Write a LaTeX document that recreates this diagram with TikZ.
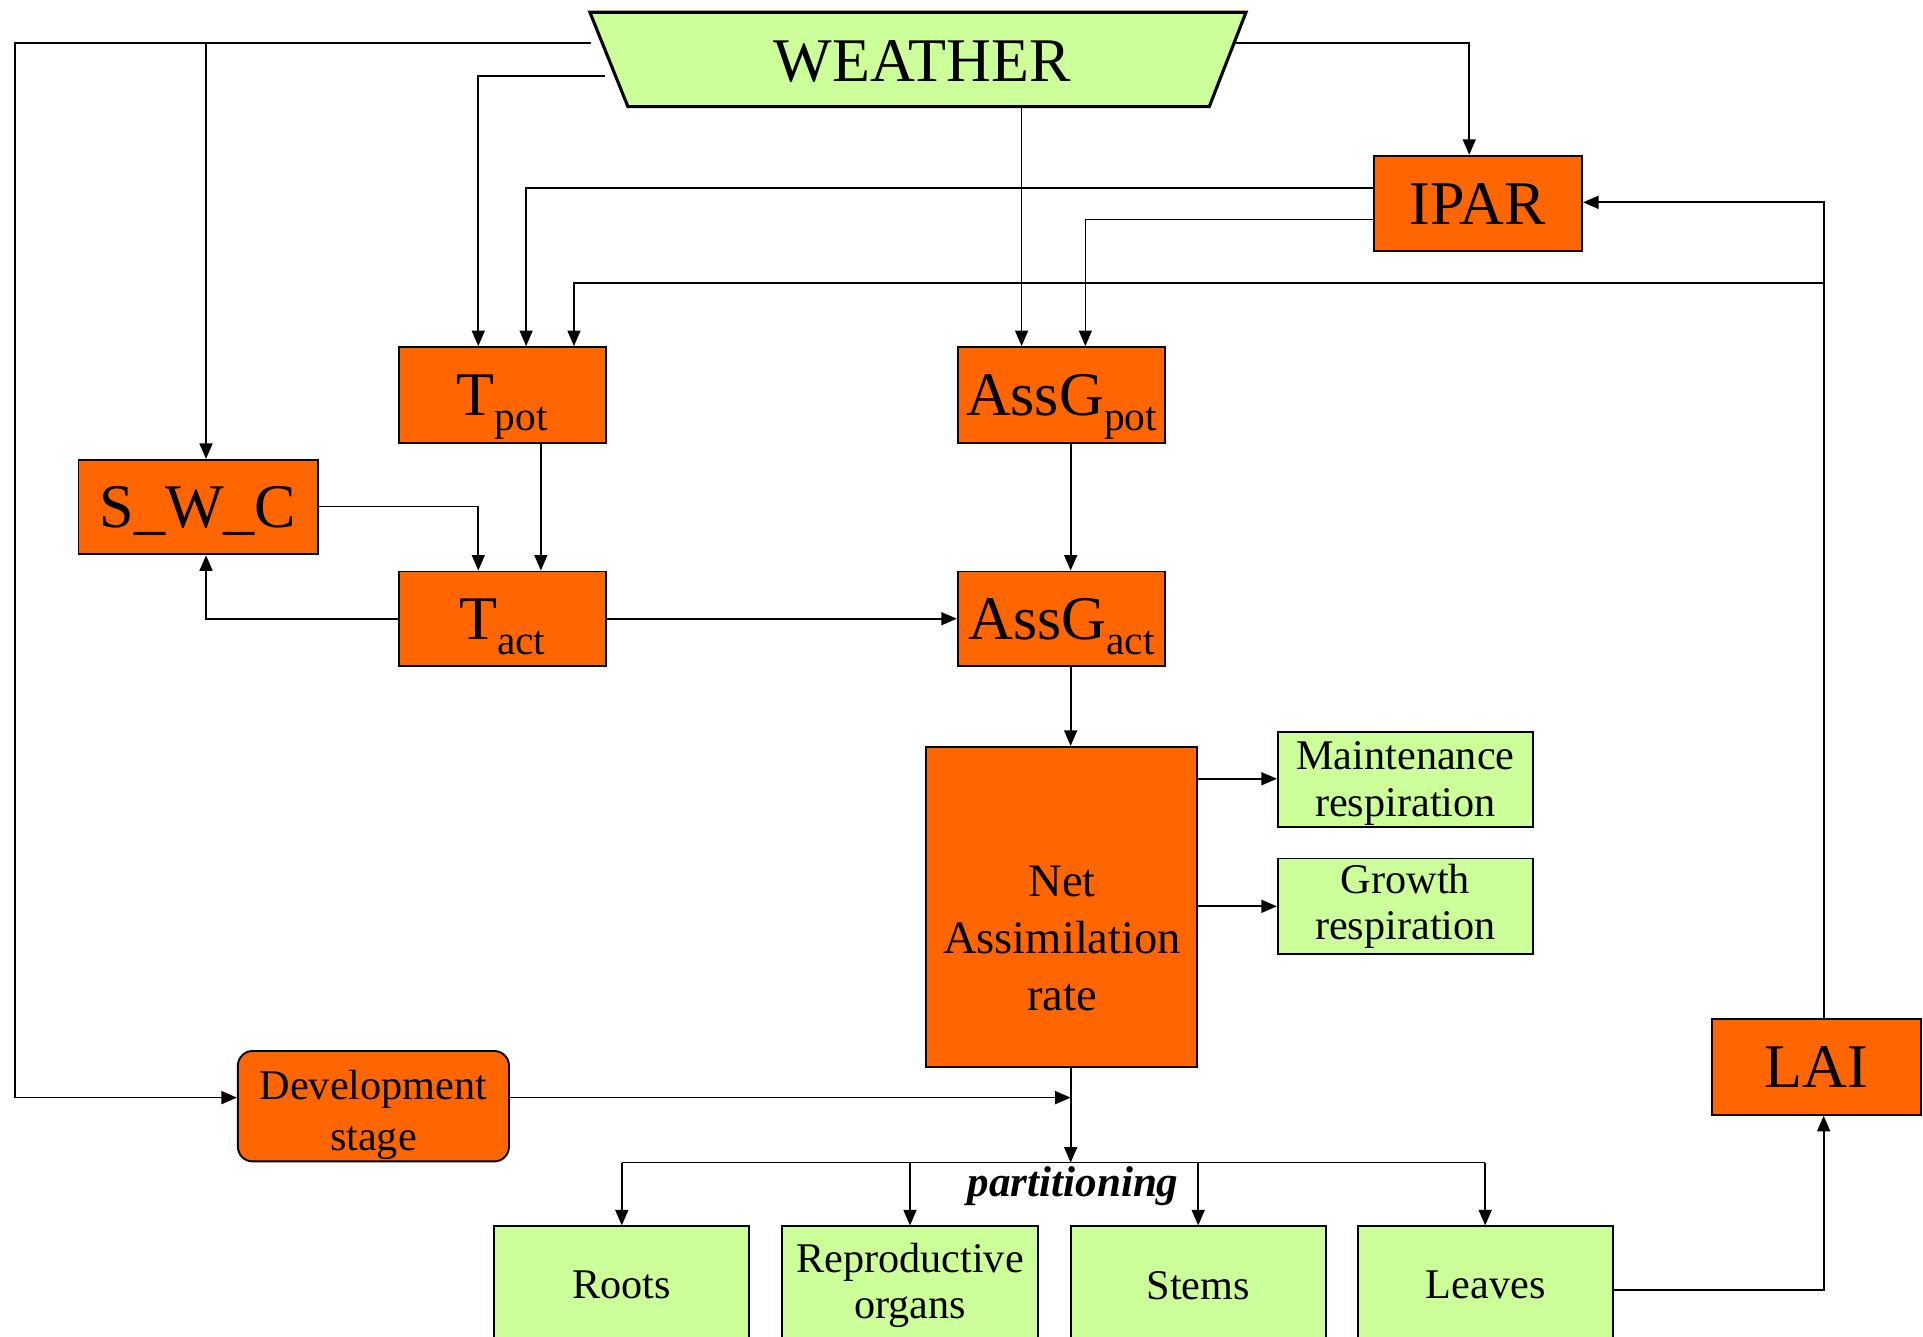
\documentclass[tikz,border=0pt]{standalone}
\usepackage{fontspec}
\setmainfont{Liberation Serif}
\usetikzlibrary{arrows.meta}
\definecolor{orng}{HTML}{FF6600}
\definecolor{lgreen}{HTML}{CCFF99}
\tikzset{
  conn/.style={line width=1pt},
  arr/.style={conn,-{Triangle[length=9pt,width=7.5pt]}},
  obox/.style={draw, line width=1.1pt, fill=orng, inner sep=0pt, font=\fontsize{36}{40}\selectfont, text depth=0pt},
  gbox/.style={draw, line width=1.1pt, fill=lgreen, inner sep=0pt, align=center, font=\fontsize{24.5}{27}\selectfont},
}
\begin{document}
\begin{tikzpicture}[x=0.025cm,y=-0.025cm]
\useasboundingbox (0,0) rectangle (1568,1090);
% weather
\draw[line width=1.8pt, fill=lgreen] (481,10) -- (1016,10) -- (986,87) -- (512,87) -- cycle;
\node[font=\fontsize{36}{40}\selectfont] (weather) at (752,50) {WEATHER};
\coordinate (wl1) at (482,35);
\coordinate (wl2) at (493,62);
\coordinate (wr) at (1005,35);
\coordinate (wb) at (833,87);
% boxes
\node[obox, minimum width=4.225cm, minimum height=1.95cm] (tpot) at (409.5,322) {T\raisebox{-9pt}[0pt][0pt]{\fontsize{24}{24}\selectfont pot}};
\node[obox, minimum width=4.225cm, minimum height=1.95cm] (assgpot) at (865.5,322) {AssG\raisebox{-9pt}[0pt][0pt]{\fontsize{24}{24}\selectfont pot}};
\node[obox, minimum width=4.875cm, minimum height=1.925cm] (swc) at (161.5,413.5) {S\_W\_C};
\node[obox, minimum width=4.225cm, minimum height=1.925cm] (tact) at (409.5,504.5) {T\raisebox{-9pt}[0pt][0pt]{\fontsize{24}{24}\selectfont act}};
\node[obox, minimum width=4.225cm, minimum height=1.925cm] (assgact) at (865.5,504.5) {AssG\raisebox{-9pt}[0pt][0pt]{\fontsize{24}{24}\selectfont act}};
\node[obox, minimum width=4.25cm, minimum height=1.95cm] (ipar) at (1205,166) {IPAR};
\node[obox, minimum width=4.25cm, minimum height=1.95cm] (lai) at (1481,870) {LAI};
\node[obox, minimum width=5.525cm, minimum height=6.525cm] (nar) at (865.5,739.5) {};
\node[align=center, font=\fontsize{27}{33}\selectfont] (nartxt) at (866,765) {Net\\Assimilation\\rate};
\node[gbox, minimum width=5.2cm, minimum height=1.925cm] (maint) at (1146,635.5) {\rule{0pt}{21pt}Maintenance\\respiration};
\node[gbox, minimum width=5.2cm, minimum height=1.95cm] (growth) at (1146,739) {Growth\\respiration};
\node[draw, line width=1.1pt, fill=orng, rounded corners=0.3cm, inner sep=0pt, align=center, minimum width=5.525cm, minimum height=2.25cm, font=\fontsize{24.5}{30}\selectfont] (dev) at (304.5,902) {\rule{0pt}{27pt}Development\\stage};
\node[gbox, minimum width=5.2cm, minimum height=2.4cm] (roots) at (507,1048) {Roots};
\node[gbox, minimum width=5.2cm, minimum height=2.4cm] (repro) at (742,1048) {Reproductive\\organs};
\node[gbox, minimum width=5.2cm, minimum height=2.4cm] (stems) at (977,1048) {Stems};
\node[gbox, minimum width=5.2cm, minimum height=2.4cm] (leaves) at (1211.5,1048) {Leaves};
\node[font=\fontsize{25}{28}\selectfont\bfseries\itshape] (part) at (875,967) {partitioning};
% connectors
\coordinate (c1) at (12,35);
\coordinate (c2) at (12,895);
\draw[arr] (wl1) -- (c1) -- (c2) -- (c2 -| dev.west);
\coordinate (c3) at (168,35);
\draw[arr] (c3) -- (c3 |- swc.north);
\coordinate (c4) at (390,62);
\draw[arr] (wl2) -- (c4) -- (c4 |- tpot.north);
\coordinate (c5) at (1198,35);
\draw[arr] (wr) -- (c5) -- (c5 |- ipar.north);
\draw[arr] (wb) -- (wb |- assgpot.north);
\coordinate (c6) at (429,153);
\draw[arr] (c6 -| ipar.west) -- (c6) -- (c6 |- tpot.north);
\coordinate (c7) at (885,179);
\draw[arr] (c7 -| ipar.west) -- (c7) -- (c7 |- assgpot.north);
\coordinate (c8) at (1487,165);
\draw[arr] (c8 |- lai.north) -- (c8) -- (c8 -| ipar.east);
\coordinate (c9) at (1487,231);
\coordinate (c10) at (468,231);
\draw[arr] (c9) -- (c10) -- (c10 |- tpot.north);
\coordinate (c11) at (441,400);
\draw[arr] (c11 |- tpot.south) -- (c11 |- tact.north);
\coordinate (c12) at (390,413);
\draw[arr] (c12 -| swc.east) -- (c12) -- (c12 |- tact.north);
\coordinate (c13) at (168,504.5);
\draw[arr] (tact.west) -- (c13) -- (c13 |- swc.south);
\draw[arr] (tact.east) -- (assgact.west);
\coordinate (c14) at (873,400);
\draw[arr] (c14 |- assgpot.south) -- (c14 |- assgact.north);
\draw[arr] (c14 |- assgact.south) -- (c14 |- nar.north);
\coordinate (c15) at (1000,635);
\draw[arr] (c15 -| nar.east) -- (c15 -| maint.west);
\coordinate (c16) at (1000,739);
\draw[arr] (c16 -| nar.east) -- (c16 -| growth.west);
\coordinate (c17) at (873,895);
\draw[arr] (c17 -| dev.east) -- (c17);
\coordinate (c18) at (873,948);
\draw[arr] (c14 |- nar.south) -- (c18);
\coordinate (c19) at (507,948);
\coordinate (c20) at (1211,948);
\coordinate (c22) at (742,948);
\coordinate (c23) at (977,948);
\draw[conn] (c19) -- (c20);
\draw[arr] (c19) -- (c19 |- roots.north);
\draw[arr] (c22) -- (c22 |- repro.north);
\draw[arr] (c23) -- (c23 |- stems.north);
\draw[arr] (c20) -- (c20 |- leaves.north);
\coordinate (c21) at (1487,1052);
\draw[arr] (c21 -| leaves.east) -- (c21) -- (c21 |- lai.south);
\end{tikzpicture}
\end{document}
